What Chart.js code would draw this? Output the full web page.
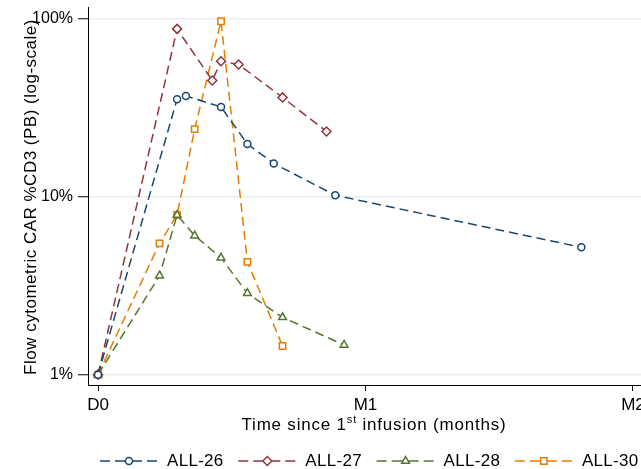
<!DOCTYPE html>
<html lang="en">
<head>
    <meta charset="UTF-8">
    <title>CAR T expansion</title>
    <script src="https://cdn.jsdelivr.net/npm/chart.js"></script>
    <style>
        html, body { margin: 0; padding: 0; background: #fff; overflow: hidden; }
        #wrap { width: 700px; height: 469px; }
    </style>
</head>
<body>
    <div id="wrap"><canvas id="carChart" width="700" height="469"></canvas></div>

    <script>
        // days since first infusion, % CAR+ of CD3 (PB)
        const days26 = [0, 9, 10, 14, 17, 20, 27, 55];
        const pct26 = [1, 35.4, 36.9, 32.0, 19.8, 15.4, 10.2, 5.2];
        const days27 = [0, 9, 13, 14, 16, 21, 26];
        const pct27 = [1, 87.9, 45.1, 57.8, 55.4, 36.2, 23.3];
        const days28 = [0, 7, 9, 11, 14, 17, 21, 28];
        const pct28 = [1, 3.6, 7.9, 6.05, 4.54, 2.87, 2.1, 1.47];
        const days30 = [0, 7, 9, 11, 14, 17, 21];
        const pct30 = [1, 5.47, 7.92, 24.0, 97.1, 4.31, 1.45];

        const seriesNames = ['ALL-26', 'ALL-27', 'ALL-28', 'ALL-30'];
        const xTickDays = [0, 30.4375, 60.875];
        const xTickLabels = ['D0', 'M1', 'M2'];
        const yTickValues = [1, 10, 100];
        const yTickLabels = ['1%', '10%', '100%'];
        const yTitle = 'Flow cytometric CAR %CD3 (PB) (log-scale)';

        const FONT = 'Arial, "Liberation Sans", Helvetica, sans-serif';
        const colors = ['#1a476f', '#90353b', '#55752f', '#e37e00'];
        const markers = ['circle', 'rectRot', 'triangle', 'rect'];
        const radii = [3.5, 4.5, 4.5, 4.5];

        function toPoints(xs, ys) {
            return xs.map((x, i) => ({ x: x, y: ys[i] }));
        }

        const allData = [
            toPoints(days26, pct26),
            toPoints(days27, pct27),
            toPoints(days28, pct28),
            toPoints(days30, pct30)
        ];

        // axis titles (x one has a superscript) + Stata style legend
        const extrasPlugin = {
            id: 'extras',
            afterDraw(chart) {
                const ctx = chart.ctx;
                const area = chart.chartArea;
                ctx.save();
                ctx.fillStyle = '#000';
                ctx.textBaseline = 'alphabetic';
                ctx.letterSpacing = '0.8px';

                const big = '17px ' + FONT;
                const small = '11px ' + FONT;
                const p1 = 'Time since 1', sup = 'st', p2 = ' infusion (months)';
                ctx.font = big;
                const w1 = ctx.measureText(p1).width;
                const w3 = ctx.measureText(p2).width;
                ctx.font = small;
                const w2 = ctx.measureText(sup).width;
                let x = 374 - (w1 + w2 + w3) / 2;
                const base = 430;
                ctx.font = big;
                ctx.fillText(p1, x, base);
                x += w1;
                ctx.font = small;
                ctx.fillText(sup, x, base - 7);
                x += w2;
                ctx.font = big;
                ctx.fillText(p2, x, base);

                // y title, rotated
                ctx.save();
                ctx.letterSpacing = '0.5px';
                ctx.translate(31.5, (area.top + area.bottom) / 2 + 1);
                ctx.rotate(-Math.PI / 2);
                ctx.textAlign = 'center';
                ctx.textBaseline = 'middle';
                ctx.font = big;
                ctx.fillText(yTitle, 0, 0);
                ctx.restore();

                // legend
                ctx.letterSpacing = '0.3px';
                const ly = 461;
                let lx = 100;
                seriesNames.forEach((name, i) => {
                    ctx.strokeStyle = colors[i];
                    ctx.lineWidth = 1.5;
                    ctx.setLineDash([]);
                    [[0, 10], [15, 42], [47, 57]].forEach(seg => {
                        ctx.beginPath();
                        ctx.moveTo(lx + seg[0], ly);
                        ctx.lineTo(lx + seg[1], ly);
                        ctx.stroke();
                    });
                    ctx.fillStyle = '#fff';
                    Chart.helpers.drawPoint(ctx, {
                        pointStyle: markers[i],
                        radius: radii[i],
                        rotation: 0,
                        borderWidth: 1.5
                    }, lx + 29, ly);
                    ctx.fillStyle = '#000';
                    ctx.font = big;
                    ctx.textBaseline = 'middle';
                    ctx.fillText(name, lx + 67, ly);
                    lx += 138.3;
                });
                ctx.restore();
            }
        };

        const ctx = document.getElementById('carChart').getContext('2d');
        new Chart(ctx, {
            type: 'line',
            data: {
                datasets: seriesNames.map((name, i) => ({
                    label: name,
                    data: allData[i],
                    borderColor: colors[i],
                    borderWidth: 1.5,
                    borderDash: [9, 5],
                    tension: 0,
                    fill: false,
                    pointStyle: markers[i],
                    pointRadius: radii[i],
                    pointBorderWidth: 1.5,
                    pointBorderColor: colors[i],
                    pointBackgroundColor: '#fff'
                }))
            },
            options: {
                responsive: false,
                animation: false,
                layout: { padding: { top: 7, right: 40, bottom: 0, left: 0 } },
                scales: {
                    x: {
                        type: 'linear',
                        min: -1.138,
                        max: 63.95,
                        afterBuildTicks: s => { s.ticks = xTickDays.map(v => ({ value: v })); },
                        ticks: {
                            callback: (v, i) => xTickLabels[i],
                            font: { size: 17, family: FONT },
                            color: '#000',
                            padding: 4,
                            maxRotation: 0,
                            autoSkip: false
                        },
                        grid: { drawOnChartArea: false, tickColor: '#000', tickLength: 6, tickWidth: 1 },
                        border: { color: '#000', width: 1 },
                        afterFit: s => { s.height = 84; s.paddingLeft = 0; s.paddingRight = 0; }
                    },
                    y: {
                        type: 'logarithmic',
                        min: 0.875,
                        max: 116.7,
                        afterBuildTicks: s => { s.ticks = yTickValues.map(v => ({ value: v })); },
                        ticks: {
                            callback: (v, i) => yTickLabels[i],
                            font: { size: 16, family: FONT },
                            color: '#000',
                            padding: 5
                        },
                        grid: { color: '#e6eef0', lineWidth: 1.5, tickColor: '#000', tickLength: 10, tickWidth: 1 },
                        border: { color: '#000', width: 1 },
                        afterFit: s => { s.width = 88; s.paddingTop = 0; s.paddingBottom = 0; }
                    }
                },
                plugins: {
                    legend: { display: false },
                    tooltip: { enabled: false }
                }
            },
            plugins: [extrasPlugin]
        });
    </script>
</body>
</html>
